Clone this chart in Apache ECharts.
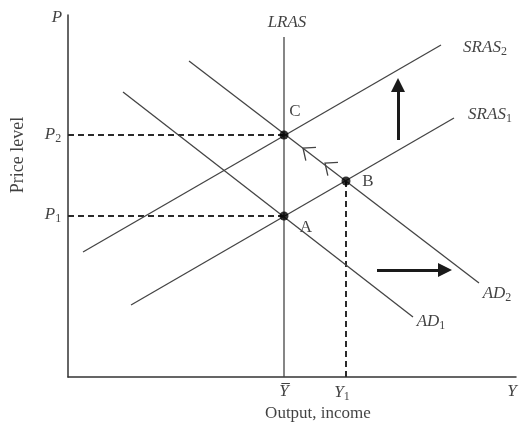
<!DOCTYPE html>
<html>
<head>
<meta charset="utf-8">
<script src="https://cdn.jsdelivr.net/npm/echarts@6/dist/echarts.min.js"></script>
<style>
  html, body { margin: 0; padding: 0; background: #fff; }
  #chart { width: 519px; height: 424px; }
</style>
</head>
<body>
<div id="chart"></div>
<script>
// curves (output, price level)
const lras = [[54, 0], [54, 85]];
const sras1 = [[15.75, 18], [96.5, 64.75]];
const sras2 = [[3.75, 31.25], [93.25, 83]];
const ad1 = [[13.75, 71.25], [86.25, 15]];
const ad2 = [[30.25, 79], [102.75, 23.5]];

// equilibria A, B, C
const points = [[54, 40.25], [69.5, 49], [54, 60.5]];

// dashed guides
const p2Guide = [[0, 60.5], [54, 60.5]];
const p1Guide = [[0, 40.25], [54, 40.25]];
const y1Guide = [[69.5, 0], [69.5, 49]];

// shift arrows
const shiftArrows = [
  [[82.5, 59.25], [82.5, 73]],
  [[77.25, 26.75], [94.25, 26.75]]
];
// small adjustment arrows along AD2
const chevrons = [[58.75, 57.25], [64.25, 53.5]];

// text labels [x, y, text]
const labels = [
  [-2.75, 89.75, '{i|P}'],
  [-3.75, 60.5, '{i|P}{s|2}'],
  [-3.75, 40.5, '{i|P}{s|1}'],
  [54.75, 88.5, '{i|LRAS}'],
  [104.25, 82.25, '{i|SRAS}{s|2}'],
  [105.5, 65.5, '{i|SRAS}{s|1}'],
  [56.75, 66.25, 'C'],
  [75, 48.75, 'B'],
  [59.5, 37.25, 'A'],
  [107.25, 20.75, '{i|AD}{s|2}'],
  [90.75, 13.75, '{i|AD}{s|1}'],
  [54, -3.75, '{i|Y\u0305}'],
  [68.5, -4, '{i|Y}{s|1}'],
  [111, -3.75, '{i|Y}'],
  [62.5, -9.25, 'Output, income']
];
const yTitle = [[-12.5, 55.5, 'Price level']];

const serif = 'Liberation Serif';
const ink = '#111';
const rich = {
  i: { fontFamily: serif, fontStyle: 'italic', fontSize: 17, color: ink },
  s: { fontFamily: serif, fontSize: 12, color: ink, padding: [8, 0, 0, 0] }
};

function curve(name, data) {
  return {
    name: name,
    type: 'line',
    data: data,
    showSymbol: false,
    silent: true,
    lineStyle: { color: '#444', width: 1.3 }
  };
}
function guide(data) {
  return {
    type: 'line',
    data: data,
    showSymbol: false,
    silent: true,
    lineStyle: { color: '#2a2a2a', width: 2, type: [6, 4] }
  };
}

const chart = echarts.init(document.getElementById('chart'));
chart.setOption({
  animation: false,
  backgroundColor: '#fff',
  grid: { left: 68, top: 15, width: 448, height: 362 },
  xAxis: {
    type: 'value', min: 0, max: 112,
    axisLine: { onZero: false, lineStyle: { color: '#333', width: 1.5 } },
    axisTick: { show: false }, axisLabel: { show: false }, splitLine: { show: false }
  },
  yAxis: {
    type: 'value', min: 0, max: 90.5,
    axisLine: { show: true, onZero: false, lineStyle: { color: '#333', width: 1.5 } },
    axisTick: { show: false }, axisLabel: { show: false }, splitLine: { show: false }
  },
  series: [
    guide(p2Guide),
    guide(p1Guide),
    guide(y1Guide),
    curve('LRAS', lras),
    curve('SRAS1', sras1),
    curve('SRAS2', sras2),
    curve('AD1', ad1),
    curve('AD2', ad2),
    {
      type: 'scatter',
      data: points,
      symbolSize: 9,
      itemStyle: { color: '#000' },
      silent: true,
      z: 5
    },
    {
      type: 'lines',
      coordinateSystem: 'cartesian2d',
      data: shiftArrows.map(c => ({ coords: c })),
      symbol: ['none', 'triangle'],
      symbolSize: 14,
      lineStyle: { color: '#1a1a1a', width: 3, opacity: 1 },
      silent: true
    },
    {
      type: 'custom',
      data: chevrons,
      silent: true,
      renderItem: function (params, api) {
        const p = api.coord([api.value(0), api.value(1)]);
        const a = api.coord(ad2[0]);
        const b = api.coord(ad2[1]);
        const len = Math.hypot(b[0] - a[0], b[1] - a[1]);
        const ux = (b[0] - a[0]) / len, uy = (b[1] - a[1]) / len;
        const ang = 40 * Math.PI / 180, L = 13;
        const rot = s => [
          p[0] + L * (ux * Math.cos(s * ang) - uy * Math.sin(s * ang)),
          p[1] + L * (ux * Math.sin(s * ang) + uy * Math.cos(s * ang))
        ];
        return {
          type: 'polyline',
          shape: { points: [rot(1), p, rot(-1)] },
          style: { stroke: '#444', lineWidth: 1.3, fill: null }
        };
      }
    },
    {
      type: 'scatter',
      data: labels,
      symbolSize: 0,
      clip: false,
      silent: true,
      label: {
        show: true,
        position: 'inside',
        formatter: p => p.value[2],
        fontFamily: serif,
        fontSize: 17,
        color: ink,
        rich: rich
      }
    },
    {
      type: 'scatter',
      data: yTitle,
      symbolSize: 0,
      clip: false,
      silent: true,
      label: {
        show: true,
        position: 'inside',
        rotate: 90,
        formatter: p => p.value[2],
        fontFamily: serif,
        fontSize: 18,
        color: ink
      }
    }
  ]
});
</script>
</body>
</html>
